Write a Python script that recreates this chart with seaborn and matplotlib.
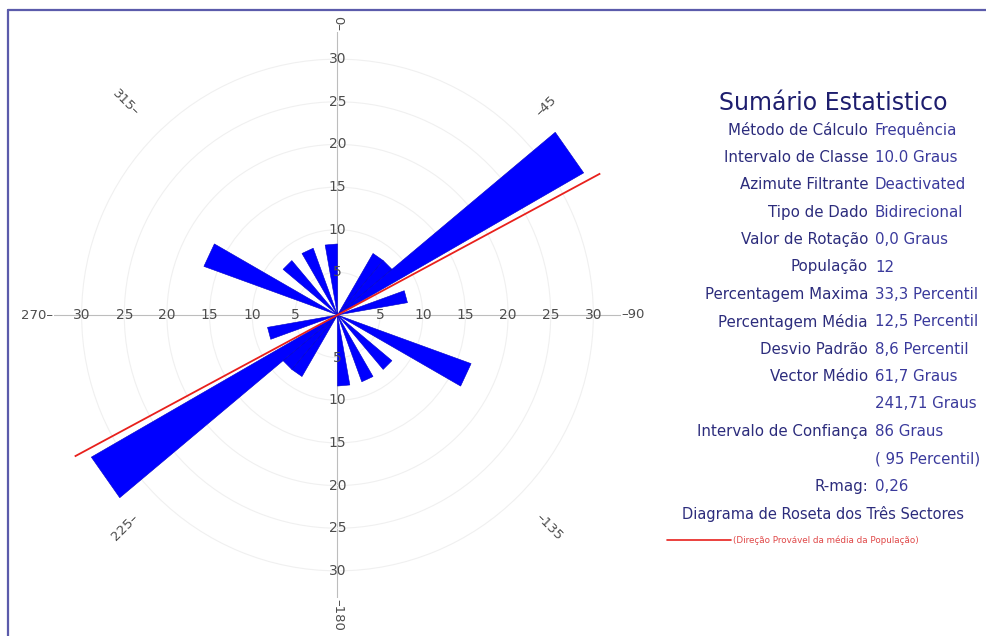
import numpy as np
import pandas as pd
import matplotlib
matplotlib.use("Agg")
import matplotlib.pyplot as plt
from matplotlib.lines import Line2D
import seaborn as sns

# ---- data -----------------------------------------------------------------
# Lower edge (degrees) of each occupied 10-degree class in the 0-180 half;
# the rose is bidirectional, so every class is mirrored at +180 degrees.
bin_start_deg = [30, 40, 50, 70, 110, 130, 150, 170]
bin_percent = [8.33, 8.33, 33.33, 8.33, 16.67, 8.33, 8.33, 8.33]
class_width_deg = 10.0

mean_vector_deg = [61.7, 241.71]

ring_values = [5, 10, 15, 20, 25, 30]
compass_angles = [0, 45, 90, 135, 180, 225, 270, 315]
compass_labels = ["0", "45", "90", "135", "180", "225", "270", "315"]

summary_title = "Sumário Estatistico"
summary_labels = ["Método de Cálculo", "Intervalo de Classe", "Azimute Filtrante",
                  "Tipo de Dado", "Valor de Rotação", "População",
                  "Percentagem Maxima", "Percentagem Média", "Desvio Padrão",
                  "Vector Médio", "", "Intervalo de Confiança", "", "R-mag:"]
summary_values = ["Frequência", "10.0 Graus", "Deactivated", "Bidirecional",
                  "0,0 Graus", "12", "33,3 Percentil", "12,5 Percentil",
                  "8,6 Percentil", "61,7 Graus", "241,71 Graus", "86 Graus",
                  "( 95 Percentil)", "0,26"]
diagram_title = "Diagrama de Roseta dos Três Sectores"
legend_text = "(Direção Provável da média da População)"

# ---- style ----------------------------------------------------------------
sns.set_theme(style="white")
plt.rcParams["font.family"] = ["DejaVu Sans"]

W, H = 987, 636
fig = plt.figure(figsize=(W / 100, H / 100), dpi=100)
fig.patch.set_facecolor("white")

cx, cy, rad_px = 337.5, 315.0, 298.5
ax = fig.add_axes([(cx - rad_px) / W, (H - cy - rad_px) / H, 2 * rad_px / W, 2 * rad_px / H],
                  projection="polar")
ax.set_theta_zero_location("N")
ax.set_theta_direction(-1)
ax.set_facecolor("white")

# ---- rose petals ----------------------------------------------------------
centers = np.array(bin_start_deg) + class_width_deg / 2
theta = np.deg2rad(np.concatenate([centers, centers + 180]))
pct = np.concatenate([bin_percent, bin_percent])
rose = pd.DataFrame({"theta": theta, "pct": pct})

sns.barplot(data=rose, x="theta", y="pct", native_scale=True, width=1.0,
            errorbar=None, color="#0000ff", saturation=1, orient="x",
            edgecolor="#0000c8", linewidth=0.4, ax=ax, zorder=2)

# petals are straight-edged wedges (flat outer edge), not arcs
for patch in ax.patches:
    if hasattr(patch, "_interpolation_steps"):
        patch._interpolation_steps = 1
    patch.get_path()._interpolation_steps = 1

# ---- mean direction line ----------------------------------------------------
mean_line = pd.DataFrame({
    "theta": np.deg2rad([mean_vector_deg[1], mean_vector_deg[1],
                         mean_vector_deg[0], mean_vector_deg[0]]),
    "r": [35, 0, 0, 35],
})
sns.lineplot(data=mean_line, x="theta", y="r", estimator=None, sort=False,
             color="#e8201c", linewidth=1.3, ax=ax, zorder=5)

# ---- axes decoration --------------------------------------------------------
ax.set_ylim(0, 35)
ax.set_xticks(np.deg2rad([0, 90, 180, 270]))
ax.set_xticklabels([])
ax.set_yticks(ring_values)
ax.set_yticklabels([])
ax.tick_params(length=0)
ax.set_axisbelow(True)
ax.xaxis.grid(True, color="#bdbdbd", linewidth=0.8)
ax.yaxis.grid(True, color="#f0f0f0", linewidth=0.8)
ax.spines["polar"].set_visible(False)
ax.set_xlabel("")
ax.set_ylabel("")

axis_color = "#4d4d4d"
for ang in [0, 90, 180, 270]:
    for rv in ring_values:
        ax.text(np.deg2rad(ang), rv, str(rv), ha="center", va="center",
                fontsize=10, color=axis_color, zorder=4)

for ang, lab in zip(compass_angles, compass_labels):
    rot = ((180 - ang) % 180) - 90
    d = np.array([np.cos(np.deg2rad(rot)), np.sin(np.deg2rad(rot))])
    u = np.array([np.sin(np.deg2rad(ang)), np.cos(np.deg2rad(ang))])
    outward = float(d @ u) > 0
    txt = "\u2013" + lab if outward else lab + "\u2013"
    ax.text(np.deg2rad(ang), 33.3, txt, rotation=rot, rotation_mode="anchor",
            ha="left" if outward else "right", va="center", fontsize=9.5,
            color=axis_color, zorder=4,
            bbox=dict(facecolor="white", edgecolor="none", pad=0.5))

# ---- statistics panel -------------------------------------------------------
def fx(px):
    return px / W


def fy(py):
    return 1 - py / H


label_color = "#2c2c7c"
value_color = "#3a3a9c"
fig.text(fx(833), fy(103), summary_title, ha="center", va="center",
         fontsize=17, color="#1e1e6e")
row_y = 130.0
for lab, val in zip(summary_labels, summary_values):
    if lab:
        fig.text(fx(868), fy(row_y), lab, ha="right", va="center",
                 fontsize=10.8, color=label_color)
    fig.text(fx(875), fy(row_y), val, ha="left", va="center",
             fontsize=10.8, color=value_color)
    row_y += 27.4

fig.text(fx(823), fy(514), diagram_title, ha="center", va="center",
         fontsize=10.5, color=label_color)
fig.add_artist(Line2D([fx(667), fx(731)], [fy(540), fy(540)],
                      transform=fig.transFigure, color="#e8201c", linewidth=1.2))
fig.text(fx(733), fy(540), legend_text, ha="left", va="center",
         fontsize=6.3, color="#e04848")

# ---- window frame -----------------------------------------------------------
frame_color = "#5b5bab"
fig.add_artist(Line2D([fx(8), fx(W)], [fy(10), fy(10)], transform=fig.transFigure,
                      color=frame_color, linewidth=1.6))
fig.add_artist(Line2D([fx(8), fx(8)], [fy(10), fy(H)], transform=fig.transFigure,
                      color=frame_color, linewidth=1.6))

fig.savefig("out.png", dpi=100)
